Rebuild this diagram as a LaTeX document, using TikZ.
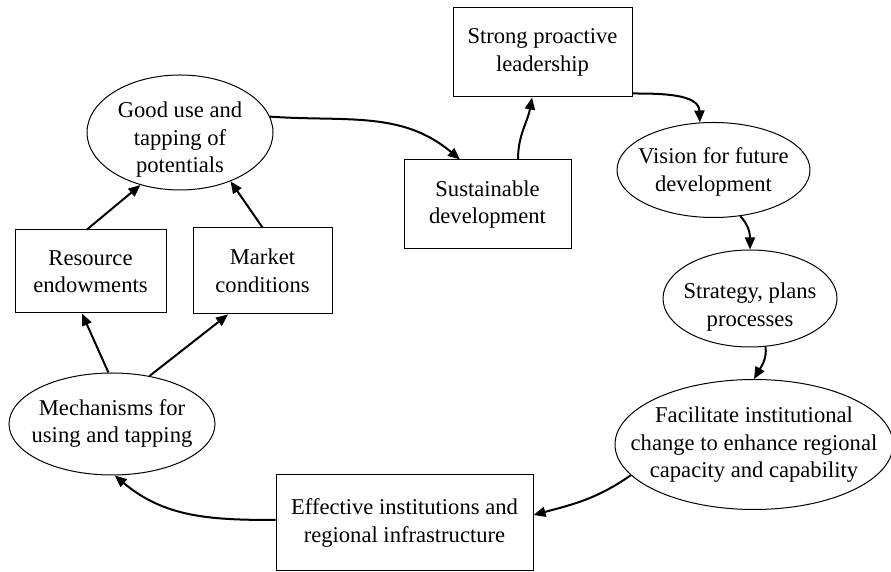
\documentclass[tikz,border=0pt]{standalone}
\usepackage{fontspec}
\setmainfont{Liberation Serif}
\usepackage{tikz}
\usetikzlibrary{arrows.meta,shapes.geometric}
\definecolor{Ink}{HTML}{000000}

\begin{document}
\begin{tikzpicture}[x=1pt,y=1pt,
    txt/.style={inner sep=0pt,align=center,font=\fontsize{22.6}{27.5}\selectfont},
    box/.style={txt,draw=Ink,line width=1pt,rectangle},
    oval/.style={draw=Ink,line width=1pt,ellipse,inner sep=0pt},
    flow/.style={Ink,line width=2pt,-{Triangle[length=12pt,width=10pt]}}]
        \useasboundingbox (0,0) rectangle (891,572);
        % boxes
        \node[box,minimum width=151pt,minimum height=83pt] (resource) at (90.5,300.5) {Resource\\endowments};
        \node[box,minimum width=139pt,minimum height=86pt] (market) at (262.5,301) {Market\\conditions};
        \node[box,minimum width=167pt,minimum height=89pt] (sustain) at (487.5,367.5) {Sustainable\\development};
        \node[box,minimum width=179pt,minimum height=89pt] (strong) at (542.5,519.5) {Strong proactive\\leadership};
        \node[box,minimum width=257pt,minimum height=96pt] (effective) at (404.5,49) {Effective institutions and\\regional infrastructure};
        % ovals, text set apart
        \node[oval,minimum width=186pt,minimum height=115pt] (good) at (180,439.5) {};
        \node[txt] (good-txt) at (180,432) {Good use and\\tapping of\\potentials};
        \node[oval,minimum width=193pt,minimum height=95pt] (vision) at (713.5,402) {};
        \node[txt] (vision-txt) at (713.5,400) {Vision for future\\development};
        \node[oval,minimum width=174pt,minimum height=97pt] (strategy) at (750,273.5) {};
        \node[txt] (strategy-txt) at (750,265) {Strategy, plans\\processes};
        \node[oval,minimum width=278pt,minimum height=130pt] (facilitate) at (754,127.5) {};
        \node[txt] (facilitate-txt) at (754,127) {Facilitate institutional\\change to enhance regional\\capacity and capability};
        \node[oval,minimum width=206pt,minimum height=102pt] (mech) at (112,148) {};
        \node[txt] (mech-txt) at (112,148.5) {Mechanisms for\\using and tapping};
        % curved links
        \draw[flow] (good.10) to[out=-4,in=140] ([xshift=-27.5pt]sustain.north);
        \draw[flow] ([xshift=30.5pt]sustain.north) to[out=90,in=-100] ([xshift=-10.5pt]strong.south);
        \draw[flow] ([yshift=4pt]strong.south east) to[out=0,in=92] (vision.106);
        \draw[flow] (vision.-60) to[out=-45,in=90] (strategy.north);
        \draw[flow] (strategy.-72) to[out=-85,in=60] (facilitate.north);
        \draw[flow] (facilitate.194) to[out=-145,in=15] ([yshift=8pt]effective.east);
        \draw[flow] ([yshift=3pt]effective.west) to[out=180,in=-40] (mech.-87);
        % straight links
        \draw[flow] (mech.94) -- ([xshift=-8.5pt]resource.south);
        \draw[flow] (mech.52) -- ([xshift=-34.5pt]market.south);
        \draw[flow] ([xshift=-3.5pt]resource.north) -- (good.233);
        \draw[flow] (market.north) -- (good.-44);
      \end{tikzpicture}
\end{document}
